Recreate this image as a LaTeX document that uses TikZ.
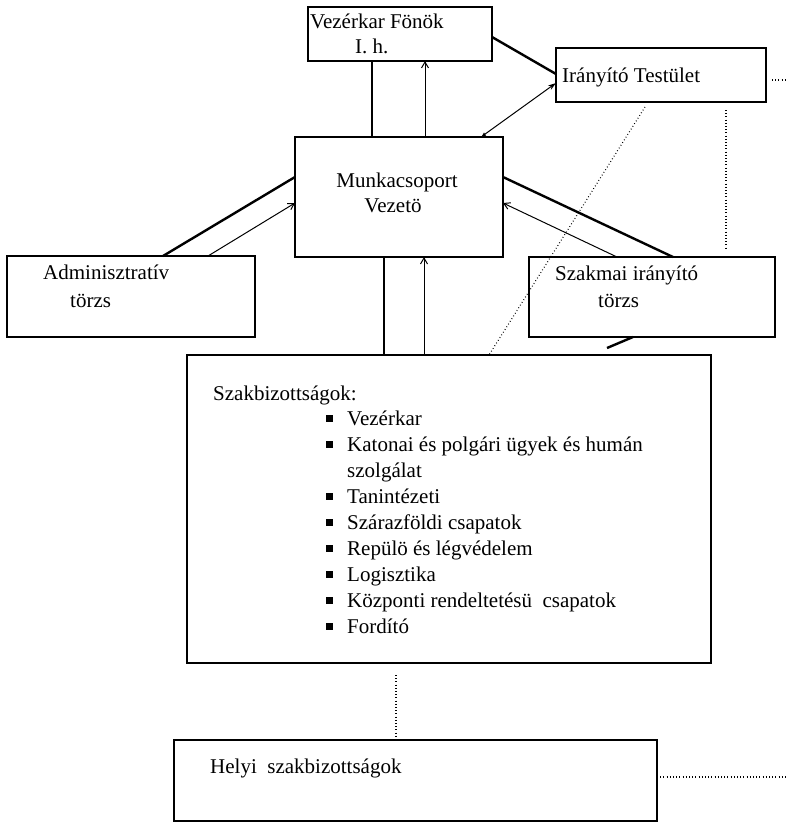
\documentclass[tikz,border=0pt]{standalone}
\usepackage{fontspec}
\setmainfont{Liberation Serif}
\usetikzlibrary{arrows.meta}
\begin{document}
\begin{tikzpicture}[x=1pt,y=-1pt,
 box/.style={draw,line width=1.3pt,inner sep=0pt,outer sep=0pt,anchor=north west},
 txt/.style={anchor=base west,inner sep=0pt,font=\fontsize{21}{25}\selectfont},
 ctxt/.style={anchor=base,inner sep=0pt,font=\fontsize{21}{25}\selectfont},
 heavy/.style={line width=2.4pt},
 light/.style={line width=1pt},
 tip/.style={-{Straight Barb[length=6pt,width=7pt]}},
 dots/.style={line width=1.1pt,dash pattern=on 0.8pt off 2.4pt},
 bul/.style={fill=black,inner sep=0pt,minimum size=7pt}]
\useasboundingbox (0,0) rectangle (786,823);
% boxes
\node[box,minimum width=184pt,minimum height=54pt] (VF) at (308,7) {};
\node[box,minimum width=210pt,minimum height=54pt] (IT) at (556,48) {};
\node[box,minimum width=208pt,minimum height=120pt] (MV) at (295,137) {};
\node[box,minimum width=248pt,minimum height=81pt] (AT) at (7,256) {};
\node[box,minimum width=246pt,minimum height=80pt] (SI) at (529,257) {};
\node[box,minimum width=524pt,minimum height=308pt] (SB) at (187,355) {};
\node[box,minimum width=483pt,minimum height=81pt] (HS) at (174,740) {};
% texts
\node[txt] (vf1) at (310,28) {Vezérkar Fönök};
\node[txt] (vf2) at (355,53) {I. h.};
\node[txt] (it1) at (562,82) {Irányító Testület};
\node[ctxt] (mv1) at (397,187) {Munkacsoport};
\node[ctxt] (mv2) at (393,212) {Vezetö};
\node[txt] (at1) at (43,279) {Adminisztratív};
\node[txt] (at2) at (70,307) {törzs};
\node[txt] (si1) at (555,280) {Szakmai irányító};
\node[txt] (si2) at (598,307) {törzs};
\node[txt] (sb0) at (213,400) {Szakbizottságok:};
\node[txt] (sb1) at (347,425) {Vezérkar};
\node[txt] (sb2) at (347,451) {Katonai és polgári ügyek és humán};
\node[txt] (sb2b) at (347,477) {szolgálat};
\node[txt] (sb3) at (347,503) {Tanintézeti};
\node[txt] (sb4) at (347,529) {Szárazföldi csapatok};
\node[txt] (sb5) at (347,555) {Repülö és légvédelem};
\node[txt] (sb6) at (347,581) {Logisztika};
\node[txt] (sb7) at (347,607) {Központi rendeltetésü\ \ csapatok};
\node[txt] (sb8) at (347,633) {Fordító};
\node[bul] (bu1) at (329,418) {};
\node[bul] (bu2) at (329,444) {};
\node[bul] (bu3) at (329,496) {};
\node[bul] (bu4) at (329,522) {};
\node[bul] (bu5) at (329,548) {};
\node[bul] (bu6) at (329,574) {};
\node[bul] (bu7) at (329,600) {};
\node[bul] (bu8) at (329,626) {};
\node[txt] (hs1) at (210,773) {Helyi\ \ szakbizottságok};
% connectors
\draw[heavy] ([xshift=64pt]VF.south west) -- ([xshift=77pt]MV.north west);
\draw[light,tip] ([xshift=130pt]MV.north west) -- ([xshift=117pt]VF.south west);
\draw[heavy] ([yshift=-30pt]VF.north east) -- ([yshift=-26pt]IT.north west);
\draw[light,{Latex[open,length=5pt,width=4pt]}-{Stealth[length=8pt,width=5pt]}] ([xshift=186pt]MV.north west) -- ([yshift=-35pt]IT.north west);
\draw[heavy] ([xshift=156pt]AT.north west) -- ([yshift=-40pt]MV.north west);
\draw[light,tip] ([xshift=201pt]AT.north west) -- ([yshift=-66pt]MV.north west);
\draw[heavy] ([xshift=144pt]SI.north west) -- ([yshift=-40pt]MV.north east);
\draw[light,tip] ([xshift=88pt]SI.north west) -- ([yshift=-66pt]MV.north east);
\draw[heavy] ([xshift=197pt]SB.north west) -- ([xshift=89pt]MV.south west);
\draw[light,tip] ([xshift=237pt]SB.north west) -- ([xshift=129pt]MV.south west);
\coordinate (stub) at (607,348);
\draw[heavy] ([xshift=104pt]SI.south west) -- (stub);
\draw[dots] ([xshift=89pt,yshift=-5pt]IT.south west) -- ([xshift=302pt]SB.north west);
\draw[dots] ([xshift=170pt,yshift=-8pt]IT.south west) -- ([xshift=197pt,yshift=9pt]SI.north west);
\draw[dots] ([xshift=209pt,yshift=-12pt]SB.south west) -- ([xshift=222pt,yshift=3pt]HS.north west);
\coordinate (hsR) at (786,777);
\draw[dots] ([yshift=-37pt]HS.north east) -- (hsR);
\coordinate (itR) at (786,80);
\draw[dots] ([xshift=6pt,yshift=-32pt]IT.north east) -- (itR);
\end{tikzpicture}
\end{document}
